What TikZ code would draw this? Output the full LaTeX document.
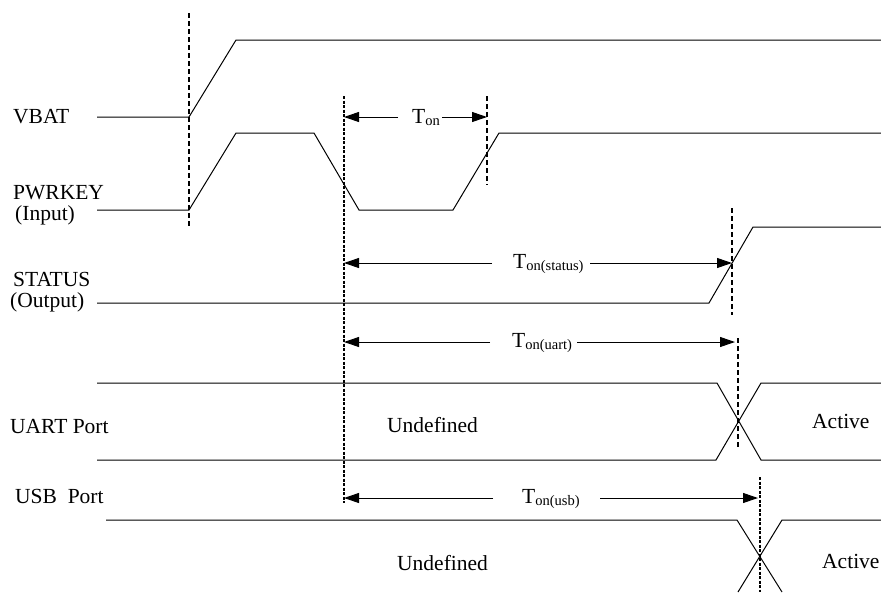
\documentclass[tikz,border=0pt]{standalone}
\usepackage{fontspec}
\setmainfont{Liberation Serif}
\usetikzlibrary{arrows.meta,calc,positioning}
\newcommand{\Tsub}[1]{T\raisebox{-0.3ex}{\fontsize{14.5}{15}\selectfont #1}}
\tikzset{
	wave/.style = {line width=1pt, line join=miter},
	cutthick/.style = {line width=1.6pt, dash pattern=on 5pt off 3pt},
	cutthin/.style = {line width=1.1pt, dash pattern=on 3pt off 1.5pt},
	span/.style = {-{Triangle[length=15pt,width=10pt]}, line width=1pt},
	lbl/.style = {anchor=base west, inner sep=0pt, font=\fontsize{21.5}{24}\selectfont},
	tlbl/.style = {lbl}
}

\begin{document}
\begin{tikzpicture}[x=1pt,y=-1pt]
    \useasboundingbox (0,0) rectangle (881,592);

    % signal names
    \node[lbl] (vbat) at (13,123) {VBAT};
    \node[lbl] (pwrkey) at (13,199) {PWRKEY};
    \node[lbl] (pwrkey-io) at (15,220) {(Input)};
    \node[lbl] (status) at (13,286) {STATUS};
    \node[lbl] (status-io) at (10,307) {(Output)};
    \node[lbl] (uart) at (10,433) {UART Port};
    \node[lbl] (usb) at (15,503) {USB\ \ Port};

    % dashed markers
    \coordinate (d1) at (189,13);  \coordinate (d1b) at (189,228);
    \coordinate (d2) at (344,96);  \coordinate (d2b) at (344,503);
    \coordinate (d3) at (487,96);  \coordinate (d3b) at (487,185);
    \coordinate (d4) at (732,208); \coordinate (d4b) at (732,315);
    \coordinate (d5) at (738,338); \coordinate (d5b) at (738,447);
    \coordinate (d6) at (760,477); \coordinate (d6b) at (760,592);
    \draw[cutthick] (d1) -- (d1b);
    \draw[cutthin] (d2) -- (d2b);
    \draw[cutthick] (d3) -- (d3b);
    \draw[cutthick] (d4) -- (d4b);
    \draw[cutthick] (d5) -- (d5b);
    \draw[cutthin] (d6) -- (d6b);

    % waveforms
    \draw[wave] (97,117) -- (189,117) -- (236,40) -- (881,40);
    \draw[wave] (97,210) -- (189,210) -- (236,133) -- (314,133) -- (359,210)
        -- (453,210) -- (499,133) -- (881,133);
    \draw[wave] (97,303) -- (709,303) -- (753,227) -- (881,227);
    \draw[wave] (97,383) -- (717,383) -- (761,460) -- (881,460);
    \draw[wave] (97,460) -- (716,460) -- (761,383) -- (881,383);
    \draw[wave] (106,520) -- (737,520) -- (782,592);
    \draw[wave] (738,592) -- (782,520) -- (881,520);

    % states
    \node[lbl] (uart-undef) at (387,432) {Undefined};
    \node[lbl] (uart-act) at (812,428) {Active};
    \node[lbl] (usb-undef) at (397,570) {Undefined};
    \node[lbl] (usb-act) at (822,568) {Active};

    % timings
    \node[tlbl] (ton) at (412,123) {\Tsub{on}};
    \coordinate (ton-l) at (398,117); \coordinate (ton-r) at (442,117);
    \draw[span] (ton-l) -- (ton-l -| d2);
    \draw[span] (ton-r) -- (ton-r -| d3);

    \node[tlbl] (tstatus) at (513,268) {\Tsub{on(status)}};
    \coordinate (tstatus-l) at (492,263); \coordinate (tstatus-r) at (590,263);
    \draw[span] (tstatus-l) -- (tstatus-l -| d2);
    \draw[span] (tstatus-r) -- (tstatus-r -| d4);

    \node[tlbl] (tuart) at (512,347) {\Tsub{on(uart)}};
    \coordinate (tuart-l) at (490,342); \coordinate (tuart-r) at (577,342);
    \draw[span] (tuart-l) -- (tuart-l -| d2);
    \draw[span] (tuart-r) -- ($(tuart-r -| d5)+(-3,0)$);

    \node[tlbl] (tusb) at (522,503) {\Tsub{on(usb)}};
    \coordinate (tusb-l) at (493,498); \coordinate (tusb-r) at (600,498);
    \draw[span] (tusb-l) -- (tusb-l -| d2);
    \draw[span] (tusb-r) -- ($(tusb-r -| d6)+(-2,0)$);
\end{tikzpicture}
\end{document}
